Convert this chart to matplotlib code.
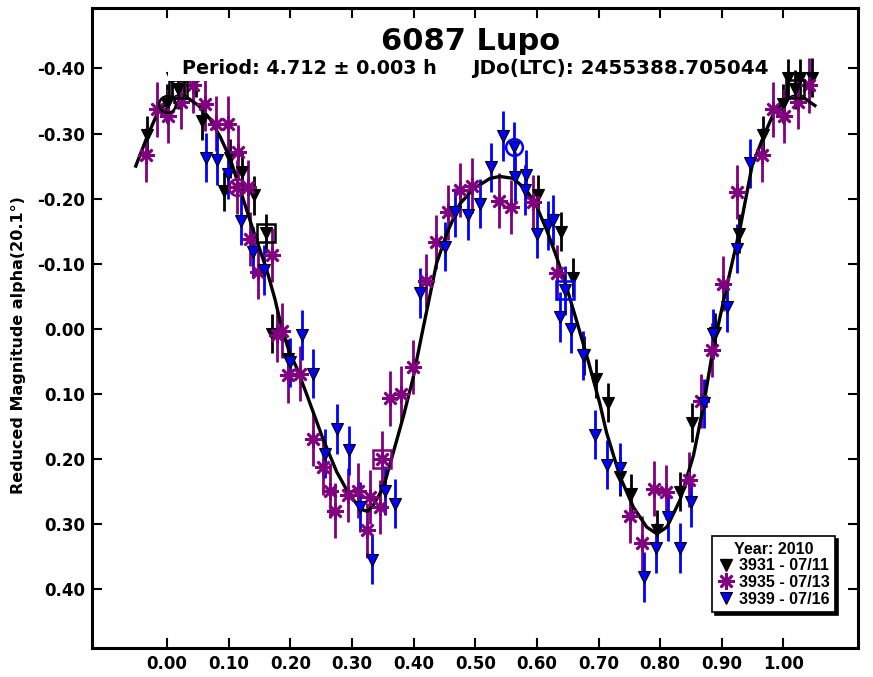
import matplotlib
matplotlib.use('Agg')
import matplotlib.pyplot as plt
import numpy as np
from matplotlib.lines import Line2D
from matplotlib.patches import Rectangle

plt.rcParams['font.family'] = ['DejaVu Sans']
plt.rcParams['font.weight'] = 'bold'

# ---------------- text ----------------
title = "6087 Lupo"
subtitle_left = "Period: 4.712 \u00b1 0.003 h"
subtitle_right = "JDo(LTC): 2455388.705044"
ylabel = "Reduced Magnitude alpha(20.1\u00b0)"
legend_title = "Year: 2010"
series_labels = ["3931 - 07/11", "3935 - 07/13", "3939 - 07/16"]

xtick_values = [0.0, 0.1, 0.2, 0.3, 0.4, 0.5, 0.6, 0.7, 0.8, 0.9, 1.0]
xtick_labels = ["0.00", "0.10", "0.20", "0.30", "0.40", "0.50", "0.60", "0.70", "0.80", "0.90", "1.00"]
ytick_values = [-0.4, -0.3, -0.2, -0.1, 0.0, 0.1, 0.2, 0.3, 0.4]
ytick_labels = ["-0.40", "-0.30", "-0.20", "-0.10", "0.00", "0.10", "0.20", "0.30", "0.40"]

# ---------------- data (phase, reduced magnitude) ----------------
black_phase = [0.000, 0.008, 0.018, 0.027, 0.046, 0.056, 0.0925, 0.102, 0.122, 0.141,
               0.160, 0.1695, 0.196, 0.602, 0.639, 0.658, 0.677, 0.696, 0.715, 0.734,
               0.753, 0.7955, 0.832, 0.851, 0.889, 0.9286, 0.9665]
black_mag = [-0.346, -0.385, -0.368, -0.385, -0.386, -0.320, -0.211, -0.262, -0.241, -0.205,
             -0.147, 0.008, 0.046, -0.206, -0.149, -0.078, 0.041, 0.077, 0.114, 0.228,
             0.254, 0.309, 0.251, 0.145, 0.006, -0.146, -0.297]
black_err = 0.030

purple_phase = [0.0016, 0.023, 0.042, 0.061, 0.079, 0.099, 0.1127, 0.115, 0.1315, 0.135,
                0.148, 0.1695, 0.1776, 0.186, 0.196, 0.2154, 0.237, 0.253, 0.264, 0.272,
                0.294, 0.310, 0.324, 0.329, 0.345, 0.348, 0.3615, 0.379, 0.399, 0.420,
                0.437, 0.456, 0.475, 0.494, 0.539, 0.558, 0.594, 0.632, 0.751, 0.771,
                0.790, 0.8096, 0.847, 0.866, 0.884, 0.9026, 0.924, 0.965, 0.983]
purple_mag = [-0.327, -0.349, -0.374, -0.346, -0.315, -0.315, -0.218, -0.271, -0.218, -0.138,
              -0.087, -0.113, 0.010, 0.003, 0.072, 0.069, 0.169, 0.213, 0.249, 0.280,
              0.256, 0.249, 0.310, 0.259, 0.274, 0.200, 0.107, 0.100, 0.059, -0.073,
              -0.133, -0.179, -0.213, -0.220, -0.197, -0.187, -0.195, -0.086, 0.288, 0.330,
              0.246, 0.251, 0.232, 0.111, 0.033, -0.069, -0.210, -0.267, -0.337]
purple_err = 0.042

blue_phase = [0.0628, 0.081, 0.099, 0.1196, 0.1386, 0.1575, 0.199, 0.218, 0.237, 0.256,
              0.275, 0.2955, 0.313, 0.333, 0.353, 0.3696, 0.411, 0.451, 0.467, 0.4886,
              0.5076, 0.525, 0.5445, 0.562, 0.5645, 0.5807, 0.583, 0.600, 0.6185, 0.6266,
              0.6375, 0.6456, 0.656, 0.674, 0.694, 0.7134, 0.734, 0.773, 0.793, 0.812,
              0.8325, 0.8497, 0.8705, 0.886, 0.908, 0.9244, 0.946]
blue_mag = [-0.263, -0.259, -0.238, -0.166, -0.118, -0.090, 0.052, 0.010, 0.069, 0.192,
            0.154, 0.187, 0.274, 0.355, 0.249, 0.269, -0.055, -0.126, -0.179, -0.174,
            -0.192, -0.248, -0.296, -0.279, -0.233, -0.213, -0.237, -0.146, -0.159, -0.167,
            -0.018, -0.059, 0.000, 0.041, 0.163, 0.209, 0.214, 0.382, 0.337, 0.289,
            0.337, 0.267, 0.115, 0.008, -0.033, -0.123, -0.254]
blue_err = 0.038

# first / last point markers
black_circle_phase = [0.000]
black_circle_mag = [-0.346]
black_square_phase = [0.160, 0.018, 1.018]
black_square_mag = [-0.147, -0.368, -0.368]
purple_circle_phase = [0.1127]
purple_circle_mag = [-0.218]
purple_square_phase = [0.348]
purple_square_mag = [0.200]
blue_circle_phase = [0.562]
blue_circle_mag = [-0.279]
blue_square_phase = [0.6456]
blue_square_mag = [-0.059]

# Fourier fit curve
curve_phase = [0.000, 0.015, 0.030, 0.051, 0.069, 0.086, 0.102, 0.118, 0.140, 0.161,
               0.175, 0.186, 0.198, 0.210, 0.226, 0.253, 0.275, 0.2966, 0.3156, 0.325,
               0.334, 0.351, 0.367, 0.383, 0.399, 0.413, 0.437, 0.4536, 0.475, 0.497,
               0.524, 0.540, 0.5617, 0.583, 0.600, 0.616, 0.632, 0.648, 0.665, 0.683,
               0.702, 0.713, 0.735, 0.7565, 0.778, 0.7945, 0.811, 0.832, 0.854, 0.870,
               0.886, 0.908, 0.930, 0.949, 0.9675, 0.984]
curve_mag = [-0.349, -0.357, -0.357, -0.343, -0.323, -0.295, -0.262, -0.215, -0.150, -0.092,
             -0.045, 0.000, 0.035, 0.060, 0.100, 0.170, 0.220, 0.257, 0.278, 0.281,
             0.272, 0.244, 0.190, 0.136, 0.076, 0.010, -0.100, -0.146, -0.192, -0.215,
             -0.231, -0.234, -0.231, -0.213, -0.187, -0.151, -0.110, -0.064, -0.010, 0.049,
             0.115, 0.160, 0.228, 0.2745, 0.305, 0.3154, 0.305, 0.264, 0.195, 0.120,
             0.030, -0.065, -0.156, -0.250, -0.295, -0.331]

# ---------------- helpers ----------------
def wrap_points(ph, mag, lo=0.05, hi=0.95):
    ph = np.asarray(ph, float)
    mag = np.asarray(mag, float)
    p = np.concatenate([ph, ph[ph > hi] - 1.0, ph[ph < lo] + 1.0])
    m = np.concatenate([mag, mag[ph > hi], mag[ph < lo]])
    return p, m

def wrap_curve(ph, mag, lo=0.052, hi=0.948):
    ph = np.asarray(ph, float)
    mag = np.asarray(mag, float)
    sel_hi = ph >= hi
    sel_lo = ph <= lo
    p = np.concatenate([ph[sel_hi] - 1.0, ph, ph[sel_lo] + 1.0])
    m = np.concatenate([mag[sel_hi], mag, mag[sel_lo]])
    return p, m

W, H = 873, 677
fig = plt.figure(figsize=(W / 100, H / 100), dpi=100)
ax = fig.add_axes([92 / W, 1 - 648 / H, (858 - 92) / W, (648 - 8) / H])

BLACK = '#000000'
PURPLE = '#800080'
BLUE = '#0000ff'

# curve
cp, cm = wrap_curve(curve_phase, curve_mag)
ax.plot(cp, cm, color='black', lw=2.4, zorder=4)

asterisk = (8, 2, 0)

series = [
    (black_phase, black_mag, black_err, BLACK, 'v', 8, BLACK, 0.8),
    (purple_phase, purple_mag, purple_err, PURPLE, asterisk, 12, PURPLE, 1.9),
    (blue_phase, blue_mag, blue_err, BLUE, 'v', 8, BLACK, 0.8),
]
for i, (ph, mg, er, col, mk, ms, mec, mew) in enumerate(series):
    p, m = wrap_points(ph, mg)
    ax.errorbar(p, m, yerr=er, fmt='none', ecolor=col, elinewidth=2.0,
                capsize=0, zorder=3 + i * 0.1)
    ax.plot(p, m, linestyle='none', marker=mk, ms=ms, color=col, mec=mec,
            mew=mew, zorder=5 + i * 0.1)

# first / last point markers
for ph, mg, col, mk, ms in [
    (black_circle_phase, black_circle_mag, BLACK, 'o', 12),
    (black_square_phase, black_square_mag, BLACK, 's', 13),
    (purple_circle_phase, purple_circle_mag, PURPLE, 'o', 12),
    (purple_square_phase, purple_square_mag, PURPLE, 's', 13),
    (blue_circle_phase, blue_circle_mag, BLUE, 'o', 12),
    (blue_square_phase, blue_square_mag, BLUE, 's', 13),
]:
    ax.plot(ph, mg, linestyle='none', marker=mk, ms=ms, mfc='none', mec=col,
            mew=1.8, zorder=6)

ax.set_xlim(-0.122, 1.121)
ax.set_ylim(0.491, -0.493)
ax.set_xticks(xtick_values)
ax.set_xticklabels(xtick_labels)
ax.set_yticks(ytick_values)
ax.set_yticklabels(ytick_labels)
ax.tick_params(direction='in', length=7, width=1.5, top=True, right=True,
               labelsize=12, pad=5)
for lab in ax.get_xticklabels() + ax.get_yticklabels():
    lab.set_fontweight('bold')
for sp in ax.spines.values():
    sp.set_linewidth(2.2)

# titles
fig.text(471 / W, 1 - 50 / H, title, ha='center', va='baseline',
         fontsize=22, fontweight='bold')
# white panel behind the subtitle line (covers marks under it, as in the original)
fig.add_artist(Rectangle((168 / W, 1 - 81 / H), (778 - 168) / W, (81 - 55) / H,
                         transform=fig.transFigure, facecolor='white',
                         edgecolor='none', zorder=9))
fig.text(182 / W, 1 - 74 / H, subtitle_left, ha='left', va='baseline',
         fontsize=13.8, fontweight='bold', zorder=10)
fig.text(472 / W, 1 - 74 / H, subtitle_right, ha='left', va='baseline',
         fontsize=14.3, fontweight='bold', zorder=10)
fig.text(19 / W, 1 - 345 / H, ylabel, ha='center', va='center', rotation=90,
         fontsize=11.5, fontweight='bold')

# legend
handles = [
    Line2D([], [], linestyle='none', marker='v', ms=8, color=BLACK, mec=BLACK),
    Line2D([], [], linestyle='none', marker=asterisk, ms=12, color=PURPLE, mew=1.9),
    Line2D([], [], linestyle='none', marker='v', ms=8, color=BLUE, mec=BLACK, mew=0.8),
]
leg_font = {'family': ['Liberation Sans', 'DejaVu Sans'], 'weight': 'bold', 'size': 11.6}
leg = ax.legend(handles, series_labels, title=legend_title, loc='lower right',
                bbox_to_anchor=(0.970, 0.056), borderaxespad=0, frameon=True,
                fancybox=False, shadow={'color': 'black', 'alpha': 1},
                prop=leg_font, title_fontproperties=leg_font, handlelength=1.0,
                handletextpad=0.3, labelspacing=0.1, borderpad=0.35,
                framealpha=1)
leg.get_frame().set_edgecolor('black')
leg.get_frame().set_linewidth(1.2)
leg.set_zorder(20)

fig.savefig('out.png', dpi=100)
